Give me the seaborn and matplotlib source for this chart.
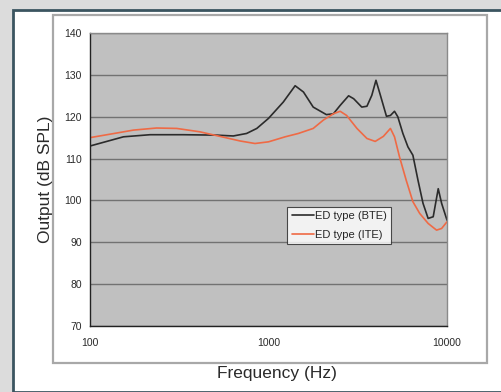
import numpy as np
import pandas as pd
import matplotlib
matplotlib.use("Agg")
import matplotlib.pyplot as plt
import seaborn as sns
from matplotlib.patches import Rectangle

################ DATA ################

bte_freq = [100, 154, 217, 333, 512, 635, 754, 860, 1000, 1210, 1410, 1570, 1780,
            2110, 2310, 2520, 2810, 3000, 3330, 3560, 3790, 4000, 4210, 4580, 4820,
            5080, 5300, 5660, 6040, 6440, 6880, 7340, 7840, 8370, 8930, 9330, 10000]
bte_out = [113.0, 115.2, 115.7, 115.7, 115.6, 115.4, 116.0, 117.2, 119.6, 123.5,
           127.4, 125.9, 122.3, 120.5, 120.7, 122.7, 125.0, 124.3, 122.3, 122.5,
           125.1, 128.7, 125.5, 120.1, 120.3, 121.3, 120.0, 116.0, 112.8, 110.8,
           104.8, 99.3, 95.7, 96.1, 102.8, 99.3, 95.3]

ite_freq = [100, 141, 175, 236, 306, 412, 535, 694, 840, 1000, 1240, 1470, 1780,
            2030, 2310, 2520, 2740, 3130, 3560, 3960, 4400, 4820, 5080, 5420, 5910,
            6440, 7030, 7840, 8740, 9330, 10000]
ite_out = [115.0, 116.1, 116.8, 117.3, 117.2, 116.4, 115.3, 114.2, 113.6, 114.0,
           115.2, 116.0, 117.2, 119.2, 120.7, 121.3, 120.3, 117.2, 114.8, 114.1,
           115.3, 117.2, 115.2, 110.4, 104.8, 99.7, 96.9, 94.5, 92.9, 93.3, 94.9]

series_names = ["ED type (BTE)", "ED type (ITE)"]
y_ticks = [70, 80, 90, 100, 110, 120, 130, 140]
x_ticks = [100, 1000, 10000]

df = pd.concat([
    pd.DataFrame({"freq": bte_freq, "out": bte_out, "type": series_names[0]}),
    pd.DataFrame({"freq": ite_freq, "out": ite_out, "type": series_names[1]}),
])

################ FIGURE ################

sns.set_style("white")
plt.rcParams['font.family'] = ['Liberation Sans', 'DejaVu Sans']

fig = plt.figure(figsize=(5.01, 3.92), dpi=100)
fig.patch.set_facecolor("#dcdcdc")
W, H = 501, 392

# white panel with dark border, then gray chart-area frame (behind the axes)
fig.patches.append(Rectangle((13 / W, 0), 1, 1 - 10 / H, transform=fig.transFigure,
                             facecolor="white", edgecolor="#3b5560", lw=2.0, zorder=-5))
fig.patches.append(Rectangle((53 / W, 1 - 363 / H), 434 / W, 348 / H, transform=fig.transFigure,
                             facecolor="white", edgecolor="#a8a8a8", lw=1.6, zorder=-4))

ax = fig.add_axes([90 / W, 1 - 326 / H, 357 / W, 293 / H])
ax.set_zorder(1)
ax.set_facecolor("#c0c0c0")

sns.lineplot(data=df, x="freq", y="out", hue="type",
             palette=["#2b2b2b", "#ef6a45"], linewidth=1.2, ax=ax, sort=False)

ax.set_xscale("log")
ax.set_xlim(100, 10000)
ax.set_ylim(70, 140)
ax.set_yticks(y_ticks)
ax.set_xticks(x_ticks)
ax.set_xticklabels([str(t) for t in x_ticks])
ax.minorticks_off()
ax.yaxis.grid(True, color="#727272", lw=1.0)
ax.set_axisbelow(True)

for side in ["left", "bottom"]:
    ax.spines[side].set_color("#222222")
    ax.spines[side].set_linewidth(1.0)
for side in ["top", "right"]:
    ax.spines[side].set_color("#8a8a8a")
    ax.spines[side].set_linewidth(1.0)

ax.tick_params(axis="both", direction="out", length=4, width=0.8, color="#222222",
               labelsize=7.5, labelcolor="#2a2a2a")
ax.tick_params(axis="x", pad=5)
ax.tick_params(axis="y", pad=2)

ax.set_xlabel("Frequency (Hz)", fontsize=12.5, color="#2a2a2a")
ax.set_ylabel("Output (dB SPL)", fontsize=12.5, color="#2a2a2a", labelpad=8)
ax.xaxis.set_label_coords(0.524, -0.135)

leg = ax.legend(title=None, loc="lower left", bbox_to_anchor=(0.552, 0.28),
                fontsize=8, frameon=True, fancybox=False, handlelength=2.0,
                handletextpad=0.1, borderpad=0.4, labelspacing=0.75,
                borderaxespad=0)
leg.get_frame().set_edgecolor("#222222")
leg.get_frame().set_facecolor("white")
leg.get_frame().set_linewidth(0.8)

fig.savefig("out.png", dpi=100, facecolor=fig.get_facecolor())
